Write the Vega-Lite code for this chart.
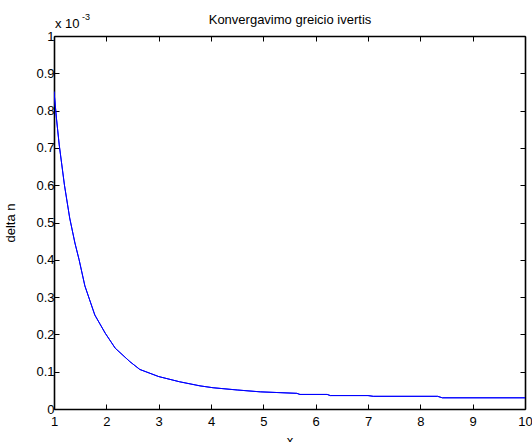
{
  "$schema": "https://vega.github.io/schema/vega-lite/v6.json",
  "width": 471,
  "height": 373,
  "autosize": "none",
  "padding": {"left": 54, "top": 36, "right": 7, "bottom": 33},
  "background": "white",
  "config": {
    "font": "Liberation Sans",
    "view": {"stroke": null},
    "axis": {
      "domainColor": "black",
      "domainWidth": 1.6,
      "tickColor": "black",
      "tickWidth": 1,
      "tickSize": -5,
      "labelColor": "black",
      "labelFontSize": 13,
      "labelFont": "Liberation Sans",
      "titleFont": "Liberation Sans",
      "titleFontSize": 13,
      "titleFontWeight": "normal",
      "titleColor": "black",
      "grid": false
    }
  },
  "data": {
    "values": [
      {"x": 1.00, "delta": 0.851},
      {"x": 1.05, "delta": 0.775},
      {"x": 1.10, "delta": 0.708},
      {"x": 1.20, "delta": 0.600},
      {"x": 1.30, "delta": 0.512},
      {"x": 1.40, "delta": 0.445},
      {"x": 1.48, "delta": 0.400},
      {"x": 1.59, "delta": 0.330},
      {"x": 1.78, "delta": 0.252},
      {"x": 1.98, "delta": 0.203},
      {"x": 2.17, "delta": 0.163},
      {"x": 2.45, "delta": 0.127},
      {"x": 2.64, "delta": 0.106},
      {"x": 3.00, "delta": 0.087},
      {"x": 3.40, "delta": 0.073},
      {"x": 3.79, "delta": 0.062},
      {"x": 4.04, "delta": 0.057},
      {"x": 4.50, "delta": 0.051},
      {"x": 4.94, "delta": 0.046},
      {"x": 5.64, "delta": 0.042},
      {"x": 5.70, "delta": 0.039},
      {"x": 6.22, "delta": 0.039},
      {"x": 6.28, "delta": 0.036},
      {"x": 7.00, "delta": 0.036},
      {"x": 7.10, "delta": 0.034},
      {"x": 8.33, "delta": 0.034},
      {"x": 8.42, "delta": 0.030},
      {"x": 10.0, "delta": 0.030}
    ]
  },
  "resolve": {"axis": {"x": "independent", "y": "independent"}},
  "layer": [
    {
      "mark": {"type": "line", "color": "#0000FF", "strokeWidth": 1, "clip": true},
      "encoding": {
        "x": {
          "field": "x", "type": "quantitative",
          "scale": {"domain": [1, 10], "nice": false, "zero": false},
          "axis": {"orient": "bottom", "values": [1,2,3,4,5,6,7,8,9,10], "labelPadding": 11, "labelFontSize": 13, "title": "x", "titlePadding": 6, "labelFlush": false}
        },
        "y": {
          "field": "delta", "type": "quantitative",
          "scale": {"domain": [0, 1], "nice": false, "zero": true},
          "axis": {"orient": "left", "values": [0,0.1,0.2,0.3,0.4,0.5,0.6,0.7,0.8,0.9,1], "format": "~g", "labelPadding": 5, "labelFontSize": 13, "title": "delta n", "titlePadding": 18, "labelFlush": false}
        }
      }
    },
    {
      "mark": {"type": "line", "color": "#0000FF", "strokeWidth": 1, "clip": true},
      "encoding": {
        "x": {
          "field": "x", "type": "quantitative",
          "axis": {"orient": "top", "values": [1,2,3,4,5,6,7,8,9,10], "labels": false, "title": "Konvergavimo greicio ivertis", "titleFontSize": 13, "titleBaseline": "alphabetic", "titlePadding": 12}
        },
        "y": {
          "field": "delta", "type": "quantitative",
          "axis": {"orient": "right", "values": [0,0.1,0.2,0.3,0.4,0.5,0.6,0.7,0.8,0.9,1], "labels": false, "title": null}
        }
      }
    },
    {
      "data": {"values": [{"x": 1, "y": 1, "t": "x 10"}]},
      "mark": {"type": "text", "align": "left", "baseline": "alphabetic", "dx": 1, "dy": -8, "fontSize": 13, "font": "Liberation Sans", "color": "black"},
      "encoding": {
        "x": {"field": "x", "type": "quantitative", "axis": null},
        "y": {"field": "y", "type": "quantitative", "axis": null},
        "text": {"field": "t"}
      }
    },
    {
      "data": {"values": [{"x": 1, "y": 1, "t": "-3"}]},
      "mark": {"type": "text", "align": "left", "baseline": "alphabetic", "dx": 28, "dy": -16, "fontSize": 9, "font": "Liberation Sans", "color": "black"},
      "encoding": {
        "x": {"field": "x", "type": "quantitative", "axis": null},
        "y": {"field": "y", "type": "quantitative", "axis": null},
        "text": {"field": "t"}
      }
    }
  ]
}
